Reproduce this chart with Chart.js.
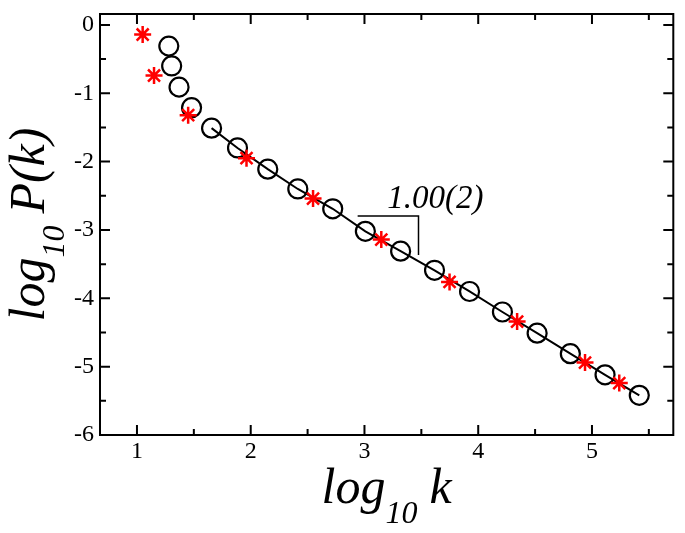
<!DOCTYPE html>
<html>
<head>
<meta charset="utf-8">
<script src="https://cdn.jsdelivr.net/npm/chart.js@4.4.0/dist/chart.umd.min.js"></script>
<style>
  html, body { margin: 0; padding: 0; background: #fff; }
  #wrap { width: 685px; height: 533px; }
</style>
</head>
<body>
<div id="wrap"><canvas id="pk"></canvas></div>
<script>
// circles (black, open)
const circleX = [1.28, 1.305, 1.37, 1.48, 1.656, 1.884, 2.15, 2.414, 2.721, 3.008, 3.318, 3.616, 3.924, 4.213, 4.518, 4.81, 5.115, 5.416];
const circleY = [-0.31, -0.60, -0.91, -1.21, -1.51, -1.80, -2.11, -2.40, -2.69, -3.02, -3.31, -3.59, -3.90, -4.20, -4.51, -4.81, -5.12, -5.42];
// red stars
const starX = [1.05, 1.15, 1.45, 1.963, 2.548, 3.148, 3.748, 4.342, 4.939, 5.24];
const starY = [-0.14, -0.74, -1.32, -1.95, -2.54, -3.14, -3.76, -4.34, -4.94, -5.24];
// the fit line runs through the circles from this index on
const fitFrom = 4;
// slope triangle
const slopeX = [2.94, 3.475, 3.475];
const slopeY = [-2.795, -2.795, -3.366];
const slopeText = '1.00(2)';
const slopeTextAt = [3.2, -2.68];
// axes
const xTicks = [1, 2, 3, 4, 5];
const xMinor = [1.5, 2.5, 3.5, 4.5, 5.5];
const yTicks = [0, -1, -2, -3, -4, -5, -6];
const yMinor = [-0.5, -1.5, -2.5, -3.5, -4.5, -5.5];

const pts = (xs, ys) => xs.map((v, i) => ({ x: v, y: ys[i] }));

const serif = '"Liberation Serif", serif';

const whiteBg = {
    id: 'whiteBg',
    beforeDraw(chart) {
        const ctx = chart.ctx;
        ctx.save();
        ctx.fillStyle = '#fff';
        ctx.fillRect(0, 0, chart.width, chart.height);
        ctx.restore();
    }
};

// box with inward ticks on all four sides
const framePlugin = {
    id: 'frame',
    afterDatasetsDraw(chart) {
        const { ctx, chartArea: a, scales: { x, y } } = chart;
        ctx.save();
        ctx.strokeStyle = '#000';
        ctx.lineWidth = 2;
        ctx.strokeRect(a.left, a.top, a.right - a.left, a.bottom - a.top);
        ctx.beginPath();
        const xt = (v, len) => {
            const p = x.getPixelForValue(v);
            ctx.moveTo(p, a.bottom); ctx.lineTo(p, a.bottom - len);
            ctx.moveTo(p, a.top); ctx.lineTo(p, a.top + len);
        };
        const yt = (v, len) => {
            const p = y.getPixelForValue(v);
            ctx.moveTo(a.left, p); ctx.lineTo(a.left + len, p);
            ctx.moveTo(a.right, p); ctx.lineTo(a.right - len, p);
        };
        xTicks.forEach(v => xt(v, 10));
        xMinor.forEach(v => xt(v, 6));
        yTicks.forEach(v => yt(v, 10));
        yMinor.forEach(v => yt(v, 6));
        ctx.stroke();

        // slope label
        ctx.fillStyle = '#000';
        ctx.font = 'italic 33px ' + serif;
        ctx.textAlign = 'left';
        ctx.textBaseline = 'alphabetic';
        ctx.fillText(slopeText, x.getPixelForValue(slopeTextAt[0]), y.getPixelForValue(slopeTextAt[1]));
        ctx.restore();
    }
};

// axis titles with subscripts
function drawTitle(ctx, main1, sub, main2, cx, cy, rotated) {
    const big = 'italic 50px ' + serif;
    const small = 'italic 32px ' + serif;
    ctx.save();
    ctx.translate(cx, cy);
    if (rotated) ctx.rotate(-Math.PI / 2);
    ctx.fillStyle = '#000';
    ctx.textAlign = 'left';
    ctx.textBaseline = 'alphabetic';
    ctx.font = big;
    const w1 = ctx.measureText(main1).width;
    const w3 = ctx.measureText(main2).width;
    ctx.font = small;
    const w2 = ctx.measureText(sub).width;
    const gap = 12;
    let px = -(w1 + w2 + gap + w3) / 2;
    ctx.font = big;
    ctx.fillText(main1, px, 0);
    px += w1;
    ctx.font = small;
    ctx.fillText(sub, px, 20);
    px += w2 + gap;
    ctx.font = big;
    ctx.fillText(main2, px, 0);
    ctx.restore();
}

const titlePlugin = {
    id: 'titles',
    afterDraw(chart) {
        const { ctx, chartArea: a } = chart;
        drawTitle(ctx, 'log', '10', 'k', (a.left + a.right) / 2, 503, false);
        drawTitle(ctx, 'log', '10', 'P(k)', 44, (a.top + a.bottom) / 2, true);
    }
};

const tickFont = { family: 'Liberation Serif', size: 24 };

new Chart(document.getElementById('pk'), {
    type: 'scatter',
    data: {
        datasets: [
            {
                label: 'stars',
                data: pts(starX, starY),
                pointStyle: 'star',
                pointRadius: 8.5,
                pointBorderColor: '#ff0000',
                pointBorderWidth: 2.5,
                showLine: false,
                order: 0
            },
            {
                label: 'fit',
                data: pts(circleX.slice(fitFrom), circleY.slice(fitFrom)),
                showLine: true,
                borderColor: '#000',
                borderWidth: 2,
                pointRadius: 0,
                order: 1
            },
            {
                label: 'slope',
                data: pts(slopeX, slopeY),
                showLine: true,
                borderColor: '#000',
                borderWidth: 1.5,
                pointRadius: 0,
                order: 1
            },
            {
                label: 'circles',
                data: pts(circleX, circleY),
                pointStyle: 'circle',
                pointRadius: 9.5,
                pointBorderColor: '#000',
                pointBackgroundColor: 'rgba(0,0,0,0)',
                pointBorderWidth: 2.2,
                showLine: false,
                order: 2
            }
        ]
    },
    options: {
        responsive: true,
        maintainAspectRatio: false,
        animation: false,
        layout: { padding: { top: 14, right: 11, left: 0, bottom: 0 } },
        plugins: {
            legend: { display: false },
            tooltip: { enabled: false }
        },
        scales: {
            x: {
                type: 'linear',
                min: 0.675,
                max: 5.715,
                afterBuildTicks: s => { s.ticks = xTicks.map(v => ({ value: v })); },
                afterFit: s => { s.height = 98; s.paddingLeft = 0; s.paddingRight = 0; },
                grid: { display: false, drawTicks: false },
                border: { display: false },
                ticks: { font: tickFont, color: '#000', padding: 2, maxRotation: 0 }
            },
            y: {
                type: 'linear',
                min: -6,
                max: 0.16,
                afterBuildTicks: s => { s.ticks = yTicks.map(v => ({ value: v })); },
                afterFit: s => { s.width = 100; s.paddingTop = 0; s.paddingBottom = 0; },
                grid: { display: false, drawTicks: false },
                border: { display: false },
                ticks: { font: tickFont, color: '#000', padding: 6 }
            }
        }
    },
    plugins: [whiteBg, framePlugin, titlePlugin]
});
</script>
</body>
</html>
